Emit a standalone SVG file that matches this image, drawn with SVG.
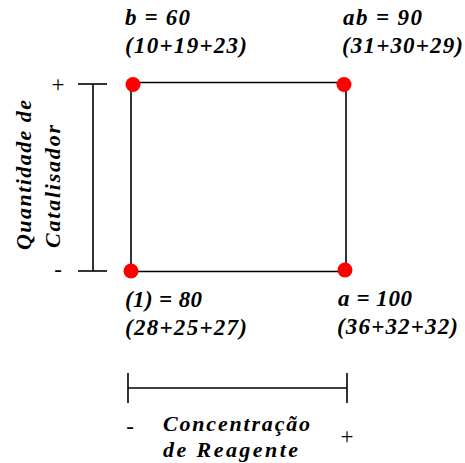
<svg xmlns="http://www.w3.org/2000/svg" width="465" height="463" viewBox="0 0 465 463">
<style>
.lbl{font-family:'Liberation Serif','DejaVu Serif',serif;font-weight:700;font-style:italic;font-size:23px;fill:#000}
.ax{font-family:'Liberation Serif','DejaVu Serif',serif;font-weight:700;font-style:italic;font-size:22px;fill:#000}
.sgn{font-family:'Liberation Serif','DejaVu Serif',serif;font-size:23px;fill:#000}
.ln{stroke:#000;stroke-width:1.6;fill:none}
.dot{fill:#ff0000}
</style>
<rect width="465" height="463" fill="#fff"/>
<g id="connectors">
<line class="ln" x1="131" y1="82.5" x2="346" y2="82.5"/>
<line class="ln" x1="131" y1="271.5" x2="346" y2="271.5"/>
<line class="ln" x1="131" y1="82.5" x2="131" y2="271.5"/>
<line class="ln" x1="346" y1="82.5" x2="346" y2="271.5"/>
</g>
<g id="axis-y">
<line class="ln" x1="93" y1="84" x2="93" y2="271"/>
<line class="ln" x1="78" y1="84" x2="107" y2="84"/>
<line class="ln" x1="78" y1="271" x2="107" y2="271"/>
<text class="sgn" x="58" y="92" text-anchor="middle">+</text>
<text class="sgn" x="58" y="277" text-anchor="middle">-</text>
<text class="ax" transform="translate(31,250) rotate(-90)" textLength="150" lengthAdjust="spacing">Quantidade de</text>
<text class="ax" transform="translate(60,248) rotate(-90)" textLength="123" lengthAdjust="spacing">Catalisador</text>
</g>
<g id="axis-x">
<line class="ln" x1="128" y1="388" x2="347" y2="388"/>
<line class="ln" x1="128" y1="373" x2="128" y2="403"/>
<line class="ln" x1="347" y1="373" x2="347" y2="403"/>
<text class="sgn" x="130" y="434" text-anchor="middle">-</text>
<text class="sgn" x="347" y="444" text-anchor="middle">+</text>
<text class="ax" x="163" y="431" textLength="147" lengthAdjust="spacing">Concentração</text>
<text class="ax" x="163" y="457" textLength="135" lengthAdjust="spacing">de Reagente</text>
</g>
<g id="node-b">
<circle class="dot" cx="133" cy="84.5" r="7.5"/>
<text class="lbl" x="125" y="25" textLength="65" lengthAdjust="spacing">b = 60</text>
<text class="lbl" x="125" y="52.5" textLength="122" lengthAdjust="spacing">(10+19+23)</text>
</g>
<g id="node-ab">
<circle class="dot" cx="344" cy="84.5" r="7.5"/>
<text class="lbl" x="343" y="25" textLength="79" lengthAdjust="spacing">ab = 90</text>
<text class="lbl" x="342" y="52.5" textLength="121" lengthAdjust="spacing">(31+30+29)</text>
</g>
<g id="node-1">
<circle class="dot" cx="131" cy="271" r="7.5"/>
<text class="lbl" x="125" y="306.5" textLength="77" lengthAdjust="spacing">(1) = 80</text>
<text class="lbl" x="125" y="334.5" textLength="122" lengthAdjust="spacing">(28+25+27)</text>
</g>
<g id="node-a">
<circle class="dot" cx="345" cy="270" r="7.5"/>
<text class="lbl" x="338" y="306" textLength="74" lengthAdjust="spacing">a = 100</text>
<text class="lbl" x="337" y="334" textLength="121" lengthAdjust="spacing">(36+32+32)</text>
</g>
</svg>
